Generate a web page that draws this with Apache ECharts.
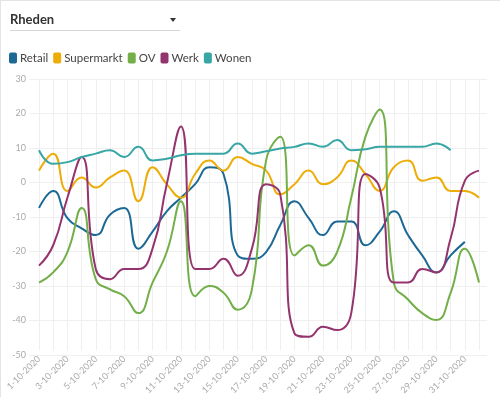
<html>
<head>
<meta charset="utf-8" />
<title>Rheden mobiliteit</title>
<script src="https://cdn.jsdelivr.net/npm/echarts@6/dist/echarts.min.js"></script>
<style>
  body { margin: 0; background: #fff; font-family: Lato, "Open Sans", sans-serif; }
  #wrap { position: relative; width: 500px; height: 397px; overflow: hidden; }
  #frameL { position: absolute; left: 0; top: 0; width: 1px; height: 397px; background: #e4e4e4; }
  #frameT { position: absolute; left: 0; top: 0; width: 500px; height: 1px; background: #e4e4e4; }
  #picker { position: absolute; left: 10px; top: 11px; width: 170px; height: 19px; border-bottom: 1px solid #d6d6d6;
            font-size: 13px; font-weight: bold; color: #333; line-height: 17px; }
  #picker .arrow { position: absolute; right: 4px; top: 7px; width: 0; height: 0;
            border-left: 3.5px solid transparent; border-right: 3.5px solid transparent; border-top: 4px solid #333; }
  #chart { position: absolute; left: 0; top: 0; width: 500px; height: 397px; }
</style>
</head>
<body>
<div id="wrap">
  <div id="chart"></div>
  <div id="frameL"></div>
  <div id="frameT"></div>
  <div id="picker">Rheden<span class="arrow"></span></div>
</div>
<script type="text/javascript">
  // x axis days
  var days = ['1-10-2020','2-10-2020','3-10-2020','4-10-2020','5-10-2020','6-10-2020','7-10-2020','8-10-2020',
              '9-10-2020','10-10-2020','11-10-2020','12-10-2020','13-10-2020','14-10-2020','15-10-2020','16-10-2020',
              '17-10-2020','18-10-2020','19-10-2020','20-10-2020','21-10-2020','22-10-2020','23-10-2020','24-10-2020',
              '25-10-2020','26-10-2020','27-10-2020','28-10-2020','29-10-2020','30-10-2020','31-10-2020','1-11-2020'];

  var names = ['Retail','Supermarkt','OV','Werk','Wonen'];
  var colors = ['#1d6996','#edad08','#73af48','#94346e','#38a6a5'];

  var retail = [-8,-3,-11,-14,-16,-10,-8,-20,-15,-9,-5,-1,4,2,-22,-23,-21,-13,-6,-11,-16,-12,-12,-19,-15,-9,-16,-22,-27,-22,-18,null];
  var supermarkt = [3,8,-3,1,-2,1,3,-6,4,-1,-5,2,6,3,7,5,3,-4,-1,3,-1,1,6,2,-3,4,6,0,1,-3,-3,-5];
  var ov = [-30,-27,-21,-8,-29,-32,-34,-39,-30,-21,-6,-34,-31,-33,-38,-32,6,13,-22,-19,-25,-21,-5,13,21,-30,-35,-39,-41,-33,-20,-30];
  var werk = [-25,-19,-5,7,-26,-29,-26,-26,-20,-1,16,-26,-26,-23,-28,-20,-1,-4,-45,-46,-43,-44,-39,2,-2,-30,-30,-26,-27,-17,0,3];
  var wonen = [9,5,5.5,7,8,9,7,10,6,6.5,7.5,8,8,8,11,8,8.7,9.5,10,11,10,12,9,9.3,10,10,10,10,11,9,null,null];

  var values = [retail, supermarkt, ov, werk, wonen];

  var dom = document.getElementById('chart');
  var myChart = echarts.init(dom);

  var series = [];
  for (var i = 0; i < names.length; i++) {
    series.push({
      name: names[i],
      type: 'line',
      smooth: true,
      showSymbol: false,
      animation: false,
      data: values[i],
      lineStyle: { width: 2, color: colors[i] },
      itemStyle: { color: colors[i] }
    });
  }

  var option = {
    textStyle: { fontFamily: 'Lato, "Open Sans", sans-serif' },
    legend: {
      data: names,
      left: 4,
      top: 47,
      icon: 'roundRect',
      itemWidth: 8,
      itemHeight: 11,
      itemGap: 5,
      textStyle: { fontSize: 11.5, color: '#444', padding: [0, 0, 0, -2] }
    },
    grid: [
      { left: 39, right: 21, top: 79, bottom: 42 },
      { left: 29, right: 13, top: 79, bottom: 42 }
    ],
    xAxis: [
      {
        type: 'category',
        gridIndex: 0,
        data: days,
        boundaryGap: false,
        axisLine: { show: false },
        axisTick: { show: false },
        splitLine: { show: true, interval: 0, lineStyle: { color: '#efefef', width: 1 } },
        axisLabel: { interval: 1, rotate: 45, fontSize: 9, color: '#aaa', margin: 7 }
      },
      { type: 'value', gridIndex: 1, show: false, min: 0, max: 1 }
    ],
    yAxis: [
      {
        type: 'value', gridIndex: 0, min: -50, max: 30, interval: 10,
        axisLine: { show: false }, axisTick: { show: false },
        splitLine: { show: false }, axisLabel: { show: false }
      },
      {
        type: 'value', gridIndex: 1, min: -50, max: 30, interval: 10,
        axisLine: { show: false }, axisTick: { show: false },
        splitLine: { show: true, lineStyle: { color: '#efefef', width: 1 } },
        axisLabel: { fontSize: 9, color: '#aaa', margin: 3 }
      }
    ],
    series: series
  };

  myChart.setOption(option);
</script>
</body>
</html>
